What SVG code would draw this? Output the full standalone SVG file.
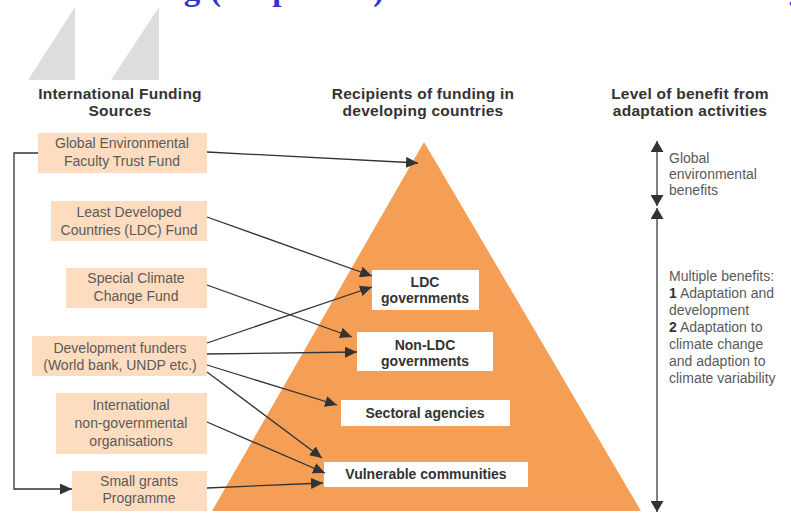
<svg xmlns="http://www.w3.org/2000/svg" width="791" height="513" viewBox="0 0 791 513">
<style>
.hdr{font-family:"Liberation Sans",Arial,sans-serif;font-weight:bold;font-size:15.5px;letter-spacing:0.25px;fill:#333;text-anchor:middle}
.src{fill:#fddcc0}
.srct{font-family:"Liberation Sans",Arial,sans-serif;font-size:14px;fill:#5a5a5a;text-anchor:middle}
.rec{fill:#fff}
.rect{font-family:"Liberation Sans",Arial,sans-serif;font-weight:bold;font-size:14px;fill:#333;text-anchor:middle}
.ben{font-family:"Liberation Sans",Arial,sans-serif;font-size:14px;fill:#5a5a5a}
.con{fill:none;stroke:#333;stroke-width:1.3;marker-end:url(#ah)}
.axis{fill:none;stroke:#555;stroke-width:1.5;marker-start:url(#gh);marker-end:url(#gh)}
</style>
<defs>
<marker id="ah" markerUnits="userSpaceOnUse" markerWidth="13" markerHeight="11" refX="12" refY="5.5" orient="auto"><path d="M0,0 L12,5.5 L0,11 z" fill="#333"/></marker>
<marker id="gh" markerUnits="userSpaceOnUse" markerWidth="12" markerHeight="13" refX="11" refY="6.5" orient="auto-start-reverse"><path d="M0,0 L11,6.5 L0,13 z" fill="#333"/></marker>
</defs>
<rect width="791" height="513" fill="#fff"/>
<g id="title-fragment">
<polygon points="75,7 75,80 28,80" fill="#dddddd"/>
<polygon points="159,7 159,80 111,80" fill="#dddddd"/>
<text x="81" y="0" font-family="Liberation Serif,serif" font-weight="bold" font-size="33" fill="#3333cc" word-spacing="1.5">Funding (adaptation) to national and local funding</text>
</g>
<g id="headers">
<text class="hdr" x="120" y="99">International Funding</text>
<text class="hdr" x="120" y="116">Sources</text>
<text class="hdr" x="423" y="99">Recipients of funding in</text>
<text class="hdr" x="423" y="116">developing countries</text>
<text class="hdr" x="690" y="99">Level of benefit from</text>
<text class="hdr" x="690" y="116">adaptation activities</text>
</g>
<g id="pyramid"><polygon points="424,142 212,511 641,511" fill="#f49f55"/></g>
<g id="src-gef"><rect class="src" x="38" y="133" width="169" height="40"/><text class="srct" x="122" y="148">Global Environmental</text><text class="srct" x="122" y="166">Faculty Trust Fund</text></g>
<g id="src-ldcf"><rect class="src" x="51" y="201" width="156" height="40"/><text class="srct" x="129" y="217">Least Developed</text><text class="srct" x="129" y="235">Countries (LDC) Fund</text></g>
<g id="src-sccf"><rect class="src" x="66" y="268" width="141" height="40"/><text class="srct" x="136" y="283">Special Climate</text><text class="srct" x="136" y="301">Change Fund</text></g>
<g id="src-dev"><rect class="src" x="32" y="336" width="175" height="40"/><text class="srct" x="120" y="353">Development funders</text><text class="srct" x="120" y="370">(World bank, UNDP etc.)</text></g>
<g id="src-ngo"><rect class="src" x="56" y="393" width="151" height="61"/><text class="srct" x="131" y="410">International</text><text class="srct" x="131" y="428">non-governmental</text><text class="srct" x="131" y="446">organisations</text></g>
<g id="src-sgp"><rect class="src" x="72" y="471" width="135" height="40"/><text class="srct" x="139" y="486">Small grants</text><text class="srct" x="139" y="503">Programme</text></g>
<g id="rec-ldc"><rect class="rec" x="372" y="270" width="107" height="40"/><text class="rect" x="425" y="287">LDC</text><text class="rect" x="425" y="303">governments</text></g>
<g id="rec-nonldc"><rect class="rec" x="357" y="332" width="136" height="39"/><text class="rect" x="425" y="350">Non-LDC</text><text class="rect" x="425" y="366">governments</text></g>
<g id="rec-sect"><rect class="rec" x="341" y="400" width="169" height="26"/><text class="rect" x="425" y="418">Sectoral agencies</text></g>
<g id="rec-vuln"><rect class="rec" x="324" y="462" width="204" height="25"/><text class="rect" x="426" y="479">Vulnerable communities</text></g>
<g id="connectors">
<polyline class="con" points="38,153 14,153 14,489 72,489"/>
<line class="con" x1="207" y1="152" x2="418" y2="163"/>
<line class="con" x1="207" y1="217" x2="372" y2="276"/>
<line class="con" x1="207" y1="285" x2="352" y2="337"/>
<line class="con" x1="207" y1="343" x2="372" y2="287"/>
<line class="con" x1="207" y1="354" x2="357" y2="352"/>
<line class="con" x1="207" y1="365" x2="337" y2="405"/>
<line class="con" x1="207" y1="372" x2="322" y2="458"/>
<line class="con" x1="207" y1="422" x2="325" y2="473"/>
<line class="con" x1="207" y1="488" x2="323" y2="483"/>
</g>
<g id="benefit-axis">
<line class="axis" x1="657" y1="141" x2="657" y2="206"/>
<line class="axis" x1="657" y1="208" x2="657" y2="512"/>
</g>
<g id="benefit-labels">
<text class="ben" x="669" y="163">Global</text>
<text class="ben" x="669" y="179">environmental</text>
<text class="ben" x="669" y="195">benefits</text>
<text class="ben" x="669" y="281">Multiple benefits:</text>
<text class="ben" x="669" y="298"><tspan font-weight="bold" fill="#333">1</tspan> Adaptation and</text>
<text class="ben" x="669" y="315">development</text>
<text class="ben" x="669" y="332"><tspan font-weight="bold" fill="#333">2</tspan> Adaptation to</text>
<text class="ben" x="669" y="349">climate change</text>
<text class="ben" x="669" y="366">and adaption to</text>
<text class="ben" x="669" y="383">climate variability</text>
</g>
</svg>
